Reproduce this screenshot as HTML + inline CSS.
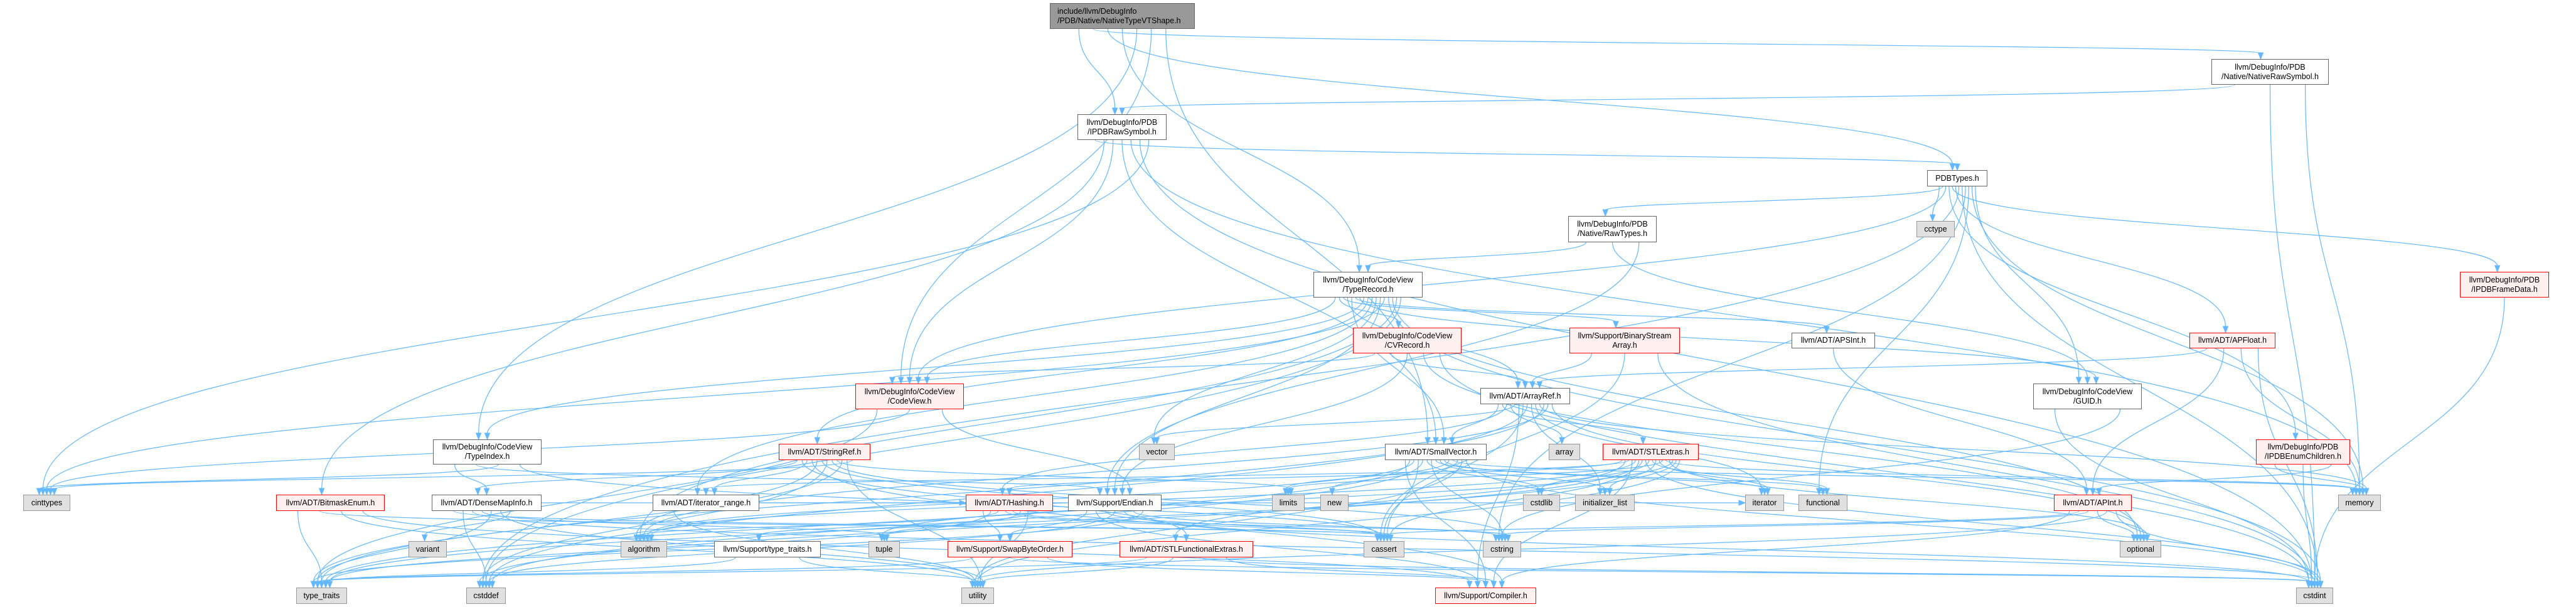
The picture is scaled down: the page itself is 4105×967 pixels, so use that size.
<!DOCTYPE html>
<html><head><meta charset="utf-8">
<style>
html,body{margin:0;padding:0;background:#fff;}
#c{position:relative;width:4105px;height:967px;overflow:hidden;background:#fff;}
svg{position:absolute;left:0;top:0;}
.n{position:absolute;box-sizing:border-box;border:1px solid #666;background:#fff;font-family:"Liberation Sans",Arial,sans-serif;font-size:12.5px;line-height:15px;color:#000;display:flex;flex-direction:column;justify-content:center;align-items:center;white-space:nowrap;text-align:center;}
.n.r{border-color:#ff0000;background:#fff0f0;}
.n.g{border-color:#999;background:#e0e0e0;}
.n.m{border-color:#666;background:#999;align-items:flex-start;padding-left:11px;text-align:left;}
</style></head><body>
<div id="c">
<svg id="s" width="4105" height="967" viewBox="0 0 4105 967"></svg>
<div class="n m" id="main" style="left:1673px;top:5px;width:231px;height:41px"><div>include/llvm/DebugInfo</div><div>/PDB/Native/NativeTypeVTShape.h</div></div>
<div class="n" id="ipdbraw" style="left:1717px;top:182px;width:142px;height:41px"><div>llvm/DebugInfo/PDB</div><div>/IPDBRawSymbol.h</div></div>
<div class="n" id="nativeraw" style="left:3524px;top:94px;width:187px;height:41px"><div>llvm/DebugInfo/PDB</div><div>/Native/NativeRawSymbol.h</div></div>
<div class="n" id="pdbtypes" style="left:3071px;top:271px;width:96px;height:26px">PDBTypes.h</div>
<div class="n g" id="cctype" style="left:3054px;top:352px;width:61px;height:26px">cctype</div>
<div class="n" id="rawtypes" style="left:2499px;top:344px;width:141px;height:42px"><div>llvm/DebugInfo/PDB</div><div>/Native/RawTypes.h</div></div>
<div class="n" id="typerecord" style="left:2093px;top:433px;width:174px;height:41px"><div>llvm/DebugInfo/CodeView</div><div>/TypeRecord.h</div></div>
<div class="n r" id="framedata" style="left:3920px;top:433px;width:142px;height:41px"><div>llvm/DebugInfo/PDB</div><div>/IPDBFrameData.h</div></div>
<div class="n r" id="cvrecord" style="left:2156px;top:522px;width:173px;height:41px"><div>llvm/DebugInfo/CodeView</div><div>/CVRecord.h</div></div>
<div class="n r" id="bsa" style="left:2501px;top:522px;width:176px;height:41px"><div>llvm/Support/BinaryStream</div><div>Array.h</div></div>
<div class="n" id="apsint" style="left:2855px;top:530px;width:133px;height:25px">llvm/ADT/APSInt.h</div>
<div class="n r" id="apfloat" style="left:3489px;top:530px;width:137px;height:25px">llvm/ADT/APFloat.h</div>
<div class="n r" id="codeview" style="left:1363px;top:611px;width:173px;height:41px"><div>llvm/DebugInfo/CodeView</div><div>/CodeView.h</div></div>
<div class="n" id="arrayref" style="left:2359px;top:618px;width:143px;height:26px">llvm/ADT/ArrayRef.h</div>
<div class="n" id="guid" style="left:3240px;top:611px;width:173px;height:41px"><div>llvm/DebugInfo/CodeView</div><div>/GUID.h</div></div>
<div class="n" id="typeindex" style="left:690px;top:700px;width:173px;height:40px"><div>llvm/DebugInfo/CodeView</div><div>/TypeIndex.h</div></div>
<div class="n r" id="enumchildren" style="left:3595px;top:700px;width:150px;height:40px"><div>llvm/DebugInfo/PDB</div><div>/IPDBEnumChildren.h</div></div>
<div class="n r" id="stringref" style="left:1241px;top:707px;width:146px;height:26px">llvm/ADT/StringRef.h</div>
<div class="n g" id="vector" style="left:1815px;top:707px;width:57px;height:26px">vector</div>
<div class="n" id="smallvector" style="left:2207px;top:707px;width:162px;height:26px">llvm/ADT/SmallVector.h</div>
<div class="n g" id="array" style="left:2468px;top:707px;width:50px;height:26px">array</div>
<div class="n r" id="stlextras" style="left:2554px;top:707px;width:153px;height:26px">llvm/ADT/STLExtras.h</div>
<div class="n g" id="cinttypes" style="left:37px;top:788px;width:75px;height:26px">cinttypes</div>
<div class="n r" id="bitmask" style="left:440px;top:788px;width:173px;height:26px">llvm/ADT/BitmaskEnum.h</div>
<div class="n" id="densemap" style="left:688px;top:788px;width:175px;height:26px">llvm/ADT/DenseMapInfo.h</div>
<div class="n" id="iterrange" style="left:1040px;top:788px;width:170px;height:26px">llvm/ADT/iterator_range.h</div>
<div class="n r" id="hashing" style="left:1539px;top:788px;width:139px;height:26px">llvm/ADT/Hashing.h</div>
<div class="n" id="endian" style="left:1702px;top:788px;width:149px;height:26px">llvm/Support/Endian.h</div>
<div class="n g" id="limits" style="left:2027px;top:788px;width:52px;height:26px">limits</div>
<div class="n g" id="new" style="left:2104px;top:788px;width:45px;height:26px">new</div>
<div class="n g" id="cstdlib" style="left:2427px;top:788px;width:59px;height:26px">cstdlib</div>
<div class="n g" id="initlist" style="left:2510px;top:788px;width:95px;height:26px">initializer_list</div>
<div class="n g" id="iterator" style="left:2781px;top:788px;width:62px;height:26px">iterator</div>
<div class="n g" id="functional" style="left:2866px;top:788px;width:78px;height:26px">functional</div>
<div class="n r" id="apint" style="left:3273px;top:788px;width:124px;height:26px">llvm/ADT/APInt.h</div>
<div class="n g" id="memory" style="left:3726px;top:788px;width:68px;height:26px">memory</div>
<div class="n g" id="variant" style="left:651px;top:862px;width:61px;height:26px">variant</div>
<div class="n g" id="algorithm" style="left:989px;top:862px;width:74px;height:26px">algorithm</div>
<div class="n" id="suptt" style="left:1138px;top:862px;width:170px;height:26px">llvm/Support/type_traits.h</div>
<div class="n g" id="tuple" style="left:1384px;top:862px;width:50px;height:26px">tuple</div>
<div class="n r" id="swap" style="left:1510px;top:862px;width:199px;height:26px">llvm/Support/SwapByteOrder.h</div>
<div class="n r" id="stlfe" style="left:1784px;top:862px;width:213px;height:26px">llvm/ADT/STLFunctionalExtras.h</div>
<div class="n g" id="cassert" style="left:2173px;top:862px;width:65px;height:26px">cassert</div>
<div class="n g" id="cstring" style="left:2363px;top:862px;width:61px;height:26px">cstring</div>
<div class="n g" id="optional" style="left:3378px;top:862px;width:66px;height:26px">optional</div>
<div class="n g" id="typetraits" style="left:472px;top:936px;width:81px;height:26px">type_traits</div>
<div class="n g" id="cstddef" style="left:743px;top:936px;width:63px;height:26px">cstddef</div>
<div class="n g" id="utility" style="left:1532px;top:936px;width:52px;height:26px">utility</div>
<div class="n r" id="compiler" style="left:2287px;top:936px;width:161px;height:26px">llvm/Support/Compiler.h</div>
<div class="n g" id="cstdint" style="left:3659px;top:936px;width:59px;height:26px">cstdint</div>
</div>
<script>
(function(){
var E={
main:["ipdbraw","nativeraw","pdbtypes","typerecord","typeindex","codeview","smallvector"],
ipdbraw:["pdbtypes","bitmask","codeview","smallvector","memory","cstdint","cinttypes"],
nativeraw:["ipdbraw","cstdint","memory"],
pdbtypes:["cctype","rawtypes","codeview","enumchildren","framedata","apfloat","cstddef","cstdint","cstring","functional","memory","guid"],
rawtypes:["typerecord","guid","endian"],
typerecord:["codeview","cvrecord","bsa","arrayref","smallvector","apsint","guid","typeindex","stringref","iterrange","vector","endian","cinttypes","cstdint","optional","algorithm","cstddef"],
cvrecord:["codeview","arrayref","endian","optional","cstdint"],
bsa:["arrayref","cassert","cstdint"],
codeview:["typetraits","cinttypes","endian"],
arrayref:["smallvector","stlextras","hashing","array","vector","compiler","cassert","cstddef","initlist","iterator","memory","typetraits","algorithm","optional"],
smallvector:["compiler","typetraits","algorithm","cassert","cstddef","cstdlib","cstring","functional","initlist","iterator","limits","memory","new","utility","cstdint"],
stlextras:["hashing","stlfe","iterrange","compiler","algorithm","cassert","cstddef","cstdint","cstdlib","functional","initlist","iterator","limits","memory","optional","tuple","typetraits","utility"],
stringref:["densemap","stlfe","iterrange","compiler","algorithm","cassert","cstddef","cstring","limits","typetraits","utility","cinttypes"],
typeindex:["densemap","endian","cinttypes","cassert"],
densemap:["cassert","cstddef","cstdint","tuple","typetraits","utility","variant","hashing"],
bitmask:["typetraits","cassert","utility","compiler"],
iterrange:["utility","iterator"],
suptt:["typetraits","utility"],
hashing:["swap","typetraits","algorithm","cassert","cstring","tuple","utility","suptt"],
endian:["swap","compiler","cassert","cstddef","cstdint","cstring","typetraits"],
swap:["typetraits","cstdint","compiler"],
stlfe:["typetraits","utility","cstdint","compiler"],
apsint:["apint"],
apfloat:["arrayref","apint","memory","cstdint"],
apint:["compiler","cassert","cstring","optional","utility","cstdint"],
guid:["cstdint","cstring"],
enumchildren:["memory","cstdint","apint"],
framedata:["cstdint"]
};
var s=document.getElementById('s'),ns='http://www.w3.org/2000/svg';
function box(id){var e=document.getElementById(id);return {x:e.offsetLeft,y:e.offsetTop,w:e.offsetWidth,h:e.offsetHeight};}
var col='#63b8ff',out='';
var cnt={};
for(var a in E){var A=box(a);var L=E[a];
 for(var i=0;i<L.length;i++){var B=box(L[i]);
  var sx=A.x+A.w*(0.2+0.6*(L.length>1?i/(L.length-1):0.5)),sy=A.y+A.h;
  var tx,ty,ex,ey;
  var k=(cnt[L[i]]=(cnt[L[i]]||0)+1);
  if(B.y>A.y+A.h+5){
   tx=B.x+B.w/2+((k%5)-2)*B.w*0.08;ty=B.y;
   var dy=ty-sy;
   var p='M'+sx+','+sy+' C'+sx+','+(sy+dy*0.5)+' '+tx+','+(ty-dy*0.5)+' '+tx+','+(ty-9);
   ex=tx;ey=ty;var ang=Math.PI/2;
  } else {
   sy=A.y+A.h/2;sx=(B.x>A.x)?A.x+A.w:A.x;
   tx=(B.x>A.x)?B.x:B.x+B.w;ty=B.y+B.h/2;
   var dx=tx-sx;
   var p='M'+sx+','+sy+' C'+(sx+dx*0.5)+','+sy+' '+(tx-dx*0.5)+','+ty+' '+(tx-(dx>0?9:-9))+','+ty;
   ang=dx>0?0:Math.PI;
  }
  out+='<path d="'+p+'" fill="none" stroke="'+col+'" stroke-width="1.2"/>';
  var ax=tx,ay=ty,bx=tx-10*Math.cos(ang),by=ty-10*Math.sin(ang);
  var px=-Math.sin(ang)*4,py=Math.cos(ang)*4;
  out+='<polygon points="'+ax+','+ay+' '+(bx+px)+','+(by+py)+' '+(bx-px)+','+(by-py)+'" fill="'+col+'" stroke="'+col+'"/>';
 }}
s.innerHTML=out;
})();
</script>
</body></html>
